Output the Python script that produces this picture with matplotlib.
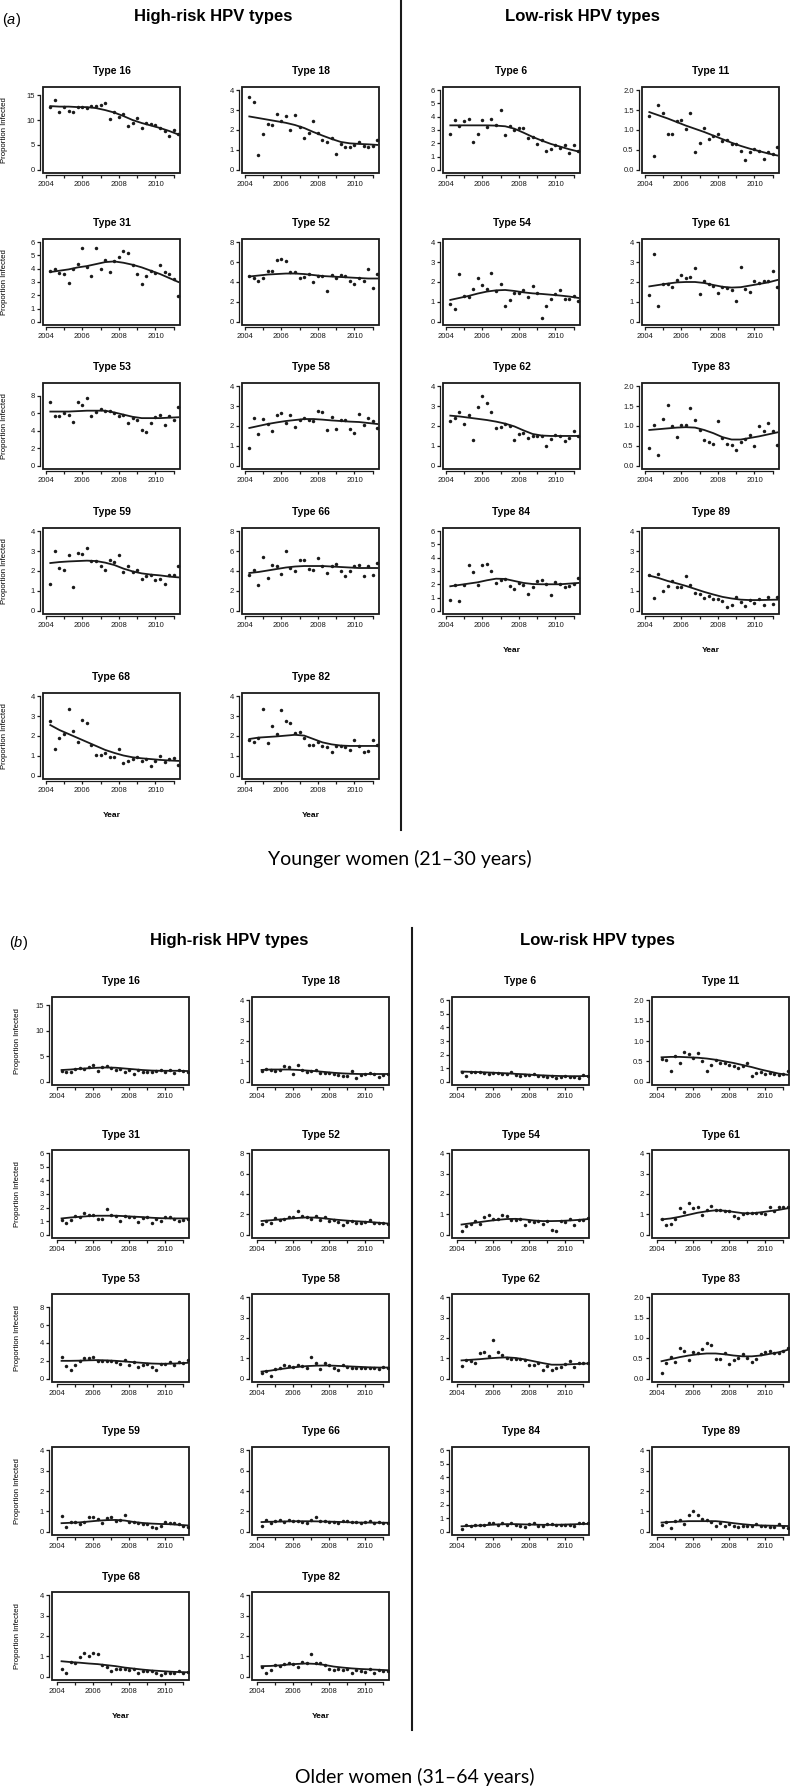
import matplotlib
matplotlib.use("Agg")
import matplotlib.pyplot as plt
from matplotlib.patches import Rectangle
from matplotlib.lines import Line2D
import numpy as np

plt.rcParams['font.family'] = ['Liberation Sans', 'DejaVu Sans']
plt.rcParams['mathtext.fontset'] = 'custom'
plt.rcParams['mathtext.rm'] = 'Liberation Sans'
plt.rcParams['mathtext.it'] = 'Liberation Sans:italic'

# panel layout (types per row)
HIGH_ROWS = [[16, 18], [31, 52], [53, 58], [59, 66], [68, 82]]
LOW_ROWS = [[6, 11], [54, 61], [62, 83], [84, 89]]

# y-axis top value and tick step per type
Y_TOP = {16: 16, 18: 4, 31: 6, 52: 8, 53: 9.1, 58: 4, 59: 4, 66: 8, 68: 4, 82: 4,
         6: 6, 11: 2, 54: 4, 61: 4, 62: 4, 83: 2, 84: 6, 89: 4}
Y_STEP = {16: 5, 18: 1, 31: 1, 52: 2, 53: 2, 58: 1, 59: 1, 66: 2, 68: 1, 82: 1,
          6: 1, 11: 0.5, 54: 1, 61: 1, 62: 1, 83: 0.5, 84: 1, 89: 1}

# quarterly points (2004.25 ... 2011.25), younger women
young_pts = {
    16: [12.7, 14.0, 11.6, 12.7, 11.9, 11.7, 12.7, 12.7, 12.4, 12.9, 12.9, 13.1, 13.5, 10.3, 11.6,
         10.7, 11.2, 8.9, 9.5, 10.5, 8.5, 9.4, 9.2, 9.1, 8.4, 7.7, 6.8, 8.0, 7.1],
    18: [3.65, 3.4, 0.75, 1.78, 2.3, 2.23, 2.8, 2.45, 2.7, 1.98, 2.77, 2.17, 1.58, 1.87, 2.47,
         1.83, 1.48, 1.42, 1.62, 0.8, 1.3, 1.15, 1.15, 1.25, 1.42, 1.2, 1.15, 1.18, 1.5],
    31: [3.8, 4.0, 3.7, 3.6, 2.9, 4.0, 4.35, 5.55, 4.15, 3.45, 5.55, 4.0, 4.65, 3.75, 4.55,
         4.85, 5.3, 5.2, 4.25, 3.6, 2.85, 3.45, 3.8, 3.65, 4.3, 3.75, 3.6, 3.2, 1.95],
    52: [4.6, 4.4, 4.13, 4.4, 5.07, 5.07, 6.2, 6.27, 6.1, 5.0, 5.0, 4.4, 4.5, 4.8, 4.0,
         4.6, 4.6, 3.07, 4.7, 4.4, 4.7, 4.6, 4.13, 3.83, 4.4, 4.13, 5.3, 3.37, 4.83],
    53: [7.25, 5.72, 5.65, 6.06, 5.8, 5.02, 7.25, 6.96, 7.7, 5.72, 6.13, 6.54, 6.3, 6.24, 6.06,
         5.65, 5.8, 4.9, 5.5, 5.28, 4.13, 3.9, 4.9, 5.58, 5.8, 4.68, 5.65, 5.28, 6.73],
    58: [0.9, 2.4, 1.62, 2.35, 2.1, 1.75, 2.53, 2.65, 2.15, 2.55, 1.95, 2.31, 2.38, 2.3, 2.23,
         2.74, 2.7, 1.82, 2.45, 1.85, 2.31, 2.3, 1.87, 1.67, 2.6, 2.07, 2.4, 2.23, 1.9],
    59: [1.36, 3.02, 2.13, 2.06, 2.79, 1.19, 2.89, 2.86, 3.17, 2.48, 2.48, 2.23, 2.06, 2.56, 2.45,
         2.82, 1.95, 2.23, 1.93, 2.06, 1.58, 1.73, 1.78, 1.53, 1.6, 1.36, 1.78, 1.78, 2.23],
    66: [3.63, 4.07, 2.62, 5.38, 3.27, 4.6, 4.47, 3.67, 6.0, 4.27, 3.97, 5.1, 5.1, 4.2, 4.07,
         5.35, 4.47, 3.8, 4.5, 4.67, 3.97, 3.5, 3.97, 4.5, 4.6, 3.47, 4.5, 3.57, 4.8],
    68: [2.75, 1.35, 1.88, 2.12, 3.37, 2.27, 1.72, 2.8, 2.67, 1.55, 1.07, 1.07, 1.15, 0.95, 0.92,
         1.35, 0.62, 0.72, 0.82, 0.95, 0.72, 0.85, 0.5, 0.75, 1.0, 0.68, 0.82, 0.9, 0.55],
    82: [1.8, 1.72, 1.88, 3.38, 1.67, 2.5, 2.08, 3.33, 2.75, 2.67, 2.15, 2.2, 1.92, 1.55, 1.55,
         1.7, 1.52, 1.45, 1.18, 1.5, 1.5, 1.45, 1.28, 1.82, 1.5, 1.22, 1.25, 1.8, 1.55],
    6: [2.72, 3.78, 3.28, 3.68, 3.85, 2.1, 2.69, 3.73, 3.21, 3.85, 3.36, 4.49, 2.62, 3.31, 2.99,
        3.14, 3.16, 2.37, 2.47, 1.95, 2.25, 1.41, 1.6, 1.85, 1.65, 1.85, 1.23, 1.85, 1.41],
    11: [1.36, 0.34, 1.62, 1.43, 0.91, 0.89, 1.22, 1.24, 1.03, 1.43, 0.45, 0.67, 1.06, 0.78, 0.86,
         0.89, 0.72, 0.75, 0.65, 0.65, 0.48, 0.24, 0.45, 0.53, 0.47, 0.28, 0.44, 0.39, 0.58],
    54: [0.89, 0.66, 2.41, 1.3, 1.26, 1.67, 2.2, 1.84, 1.67, 2.46, 1.54, 1.92, 0.8, 1.1, 1.46,
         1.46, 1.62, 1.23, 1.82, 1.43, 0.21, 0.8, 1.13, 1.38, 1.59, 1.15, 1.15, 1.3, 1.05],
    61: [1.35, 3.4, 0.77, 1.92, 1.92, 1.75, 2.08, 2.36, 2.2, 2.27, 2.69, 1.39, 2.03, 1.92, 1.82,
         1.43, 1.75, 1.69, 1.6, 1.06, 2.77, 1.67, 1.5, 2.03, 1.95, 2.03, 2.03, 2.54, 1.75],
    62: [2.26, 2.4, 2.71, 2.08, 2.55, 1.32, 2.96, 3.5, 3.17, 2.71, 1.88, 1.93, 2.08, 2.02, 1.32,
         1.59, 1.65, 1.39, 1.52, 1.52, 1.52, 1.02, 1.36, 1.57, 1.52, 1.26, 1.39, 1.75, 1.52],
    83: [0.45, 1.03, 0.27, 1.18, 1.54, 1.01, 0.73, 1.03, 1.03, 1.45, 1.14, 0.89, 0.64, 0.59, 0.54,
         1.13, 0.7, 0.54, 0.52, 0.39, 0.6, 0.68, 0.78, 0.49, 1.01, 0.87, 1.07, 0.87, 0.52],
    84: [0.82, 1.94, 0.77, 1.94, 3.42, 2.93, 1.91, 3.42, 3.5, 3.03, 2.11, 2.31, 2.36, 1.86, 1.66,
         2.11, 1.91, 1.29, 1.79, 2.23, 2.31, 2.03, 1.22, 2.16, 1.99, 1.79, 1.86, 2.03, 2.48],
    89: [1.79, 0.64, 1.87, 0.99, 1.24, 1.49, 1.19, 1.19, 1.74, 1.31, 0.91, 0.84, 0.66, 0.74, 0.58,
         0.58, 0.5, 0.2, 0.28, 0.68, 0.45, 0.25, 0.55, 0.41, 0.58, 0.31, 0.71, 0.36, 0.69],
}

# smoothed trend, half-yearly (2004.25 ... 2011.25), younger women
young_trend = {
    16: [12.8, 12.7, 12.7, 12.6, 12.6, 12.4, 12.0, 11.5, 10.8, 10.0, 9.4, 8.9, 8.4, 7.8, 7.1],
    18: [2.68, 2.6, 2.52, 2.44, 2.36, 2.25, 2.1, 1.9, 1.72, 1.55, 1.4, 1.33, 1.3, 1.28, 1.25],
    31: [3.75, 3.85, 3.95, 4.1, 4.2, 4.35, 4.5, 4.55, 4.45, 4.3, 4.1, 3.85, 3.6, 3.3, 3.0],
    52: [4.55, 4.65, 4.75, 4.8, 4.85, 4.85, 4.8, 4.7, 4.6, 4.55, 4.5, 4.45, 4.4, 4.35, 4.35],
    53: [6.2, 6.2, 6.2, 6.25, 6.3, 6.3, 6.3, 6.1, 5.85, 5.6, 5.45, 5.45, 5.45, 5.5, 5.55],
    58: [1.9, 2.0, 2.1, 2.18, 2.25, 2.3, 2.35, 2.35, 2.32, 2.28, 2.25, 2.22, 2.2, 2.15, 2.1],
    59: [2.4, 2.45, 2.48, 2.5, 2.52, 2.5, 2.42, 2.3, 2.12, 1.98, 1.88, 1.82, 1.78, 1.72, 1.68],
    66: [3.8, 3.9, 4.05, 4.2, 4.35, 4.45, 4.5, 4.5, 4.5, 4.45, 4.4, 4.35, 4.3, 4.3, 4.3],
    68: [2.55, 2.3, 2.1, 1.9, 1.7, 1.5, 1.3, 1.15, 1.02, 0.93, 0.88, 0.84, 0.8, 0.77, 0.75],
    82: [1.85, 1.92, 1.95, 1.98, 2.02, 2.06, 2.02, 1.85, 1.68, 1.58, 1.52, 1.5, 1.5, 1.5, 1.5],
    6: [3.35, 3.35, 3.35, 3.35, 3.35, 3.33, 3.28, 3.1, 2.8, 2.48, 2.2, 1.95, 1.75, 1.55, 1.38],
    11: [1.45, 1.37, 1.29, 1.2, 1.11, 1.03, 0.95, 0.86, 0.77, 0.68, 0.6, 0.53, 0.47, 0.41, 0.36],
    54: [1.1, 1.2, 1.3, 1.42, 1.52, 1.58, 1.6, 1.55, 1.48, 1.43, 1.4, 1.36, 1.32, 1.27, 1.2],
    61: [1.78, 1.85, 1.92, 1.98, 2.0, 2.0, 1.95, 1.85, 1.76, 1.72, 1.74, 1.82, 1.9, 1.98, 2.1],
    62: [2.52, 2.48, 2.42, 2.36, 2.3, 2.22, 2.12, 1.98, 1.78, 1.6, 1.52, 1.5, 1.5, 1.5, 1.5],
    83: [0.9, 0.92, 0.94, 0.96, 0.97, 0.96, 0.9, 0.82, 0.72, 0.66, 0.66, 0.7, 0.74, 0.79, 0.84],
    84: [1.85, 1.95, 2.05, 2.15, 2.3, 2.42, 2.4, 2.25, 2.1, 2.02, 2.0, 2.0, 2.0, 2.05, 2.1],
    89: [1.77, 1.65, 1.5, 1.38, 1.25, 1.1, 0.95, 0.82, 0.7, 0.62, 0.56, 0.54, 0.54, 0.55, 0.56],
}

# older women
old_pts = {
    16: [2.2, 1.9, 2.0, 2.5, 2.65, 2.6, 2.85, 3.2, 2.2, 2.8, 3.0, 2.65, 2.4, 2.6, 2.0,
         2.25, 1.6, 2.25, 1.95, 1.9, 2.0, 2.05, 2.25, 1.9, 2.25, 1.75, 2.25, 2.05, 1.9],
    18: [0.52, 0.62, 0.58, 0.55, 0.6, 0.75, 0.7, 0.4, 0.8, 0.6, 0.5, 0.55, 0.6, 0.45, 0.45,
         0.42, 0.38, 0.35, 0.28, 0.3, 0.55, 0.2, 0.32, 0.38, 0.42, 0.4, 0.25, 0.35, 0.4],
    31: [1.05, 0.85, 1.1, 1.4, 1.33, 1.58, 1.48, 1.48, 1.16, 1.16, 1.88, 1.48, 1.4, 0.99, 1.38,
         1.33, 1.33, 0.96, 1.23, 1.28, 0.84, 1.19, 1.04, 1.28, 1.28, 1.14, 1.04, 1.1, 1.19],
    52: [1.05, 1.38, 1.15, 1.64, 1.48, 1.57, 1.77, 1.7, 2.3, 1.87, 1.7, 1.57, 1.87, 1.44, 1.7,
         1.31, 1.44, 1.21, 0.98, 1.28, 1.38, 1.11, 1.11, 1.21, 1.44, 1.11, 1.11, 1.11, 1.05],
    53: [2.42, 1.47, 0.95, 1.5, 1.94, 2.31, 2.31, 2.42, 2.01, 2.01, 2.01, 2.01, 1.87, 1.61, 2.12,
         1.5, 1.83, 1.28, 1.5, 1.68, 1.28, 1.03, 1.65, 1.65, 1.83, 1.57, 1.83, 1.76, 2.05],
    58: [0.26, 0.38, 0.13, 0.46, 0.54, 0.66, 0.62, 0.59, 0.66, 0.62, 0.53, 1.07, 0.79, 0.49, 0.76,
         0.67, 0.54, 0.44, 0.66, 0.59, 0.54, 0.54, 0.54, 0.54, 0.53, 0.54, 0.49, 0.59, 0.53],
    59: [0.78, 0.24, 0.49, 0.46, 0.37, 0.46, 0.7, 0.7, 0.62, 0.42, 0.67, 0.7, 0.54, 0.57, 0.83,
         0.46, 0.5, 0.41, 0.37, 0.37, 0.24, 0.18, 0.28, 0.46, 0.41, 0.41, 0.37, 0.29, 0.21],
    66: [0.59, 1.14, 0.81, 1.07, 1.2, 0.98, 1.17, 1.07, 1.01, 0.91, 0.85, 1.14, 1.43, 1.01, 1.07,
         0.98, 0.91, 0.85, 1.01, 1.07, 0.91, 0.91, 0.85, 0.91, 1.01, 0.81, 0.91, 0.85, 0.81],
    68: [0.39, 0.2, 0.74, 0.69, 0.95, 1.15, 1.03, 1.15, 1.1, 0.57, 0.46, 0.3, 0.36, 0.39, 0.36,
         0.33, 0.38, 0.2, 0.3, 0.3, 0.3, 0.2, 0.11, 0.2, 0.16, 0.2, 0.3, 0.16, 0.25],
    82: [0.49, 0.16, 0.33, 0.57, 0.54, 0.62, 0.69, 0.62, 0.46, 0.72, 0.69, 1.1, 0.69, 0.69, 0.57,
         0.36, 0.33, 0.39, 0.33, 0.36, 0.16, 0.33, 0.3, 0.25, 0.39, 0.2, 0.33, 0.26, 0.3],
    6: [0.75, 0.45, 0.7, 0.75, 0.72, 0.68, 0.55, 0.62, 0.65, 0.6, 0.55, 0.72, 0.48, 0.45, 0.5,
        0.48, 0.55, 0.4, 0.42, 0.35, 0.42, 0.3, 0.38, 0.4, 0.38, 0.35, 0.3, 0.48, 0.42],
    11: [0.56, 0.54, 0.27, 0.63, 0.46, 0.72, 0.69, 0.59, 0.71, 0.5, 0.26, 0.41, 0.54, 0.46, 0.45,
         0.41, 0.38, 0.34, 0.38, 0.47, 0.15, 0.22, 0.24, 0.18, 0.22, 0.18, 0.16, 0.18, 0.27],
    54: [0.16, 0.44, 0.52, 0.66, 0.52, 0.85, 0.95, 0.77, 0.79, 0.97, 0.93, 0.72, 0.74, 0.77, 0.49,
         0.66, 0.61, 0.69, 0.52, 0.66, 0.23, 0.16, 0.66, 0.64, 0.77, 0.49, 0.72, 0.72, 0.82],
    61: [0.77, 0.49, 0.52, 0.77, 1.31, 1.1, 1.56, 1.31, 1.34, 0.97, 1.21, 1.43, 1.21, 1.21, 1.15,
         1.18, 0.93, 0.8, 1.02, 1.05, 1.07, 1.05, 1.05, 1.02, 1.34, 1.18, 1.38, 1.34, 1.34],
    62: [0.63, 0.92, 0.86, 0.76, 1.25, 1.32, 1.12, 1.89, 1.32, 1.15, 1.04, 0.95, 0.99, 0.95, 0.92,
         0.67, 0.67, 0.76, 0.41, 0.63, 0.41, 0.51, 0.58, 0.71, 0.87, 0.59, 0.79, 0.76, 0.79],
    83: [0.13, 0.38, 0.54, 0.4, 0.75, 0.68, 0.47, 0.65, 0.64, 0.72, 0.87, 0.82, 0.48, 0.48, 0.62,
         0.37, 0.46, 0.52, 0.6, 0.51, 0.4, 0.48, 0.6, 0.66, 0.68, 0.64, 0.64, 0.68, 0.76],
    84: [0.17, 0.49, 0.41, 0.51, 0.46, 0.51, 0.63, 0.61, 0.51, 0.68, 0.51, 0.61, 0.51, 0.44, 0.37,
         0.56, 0.61, 0.41, 0.44, 0.56, 0.56, 0.49, 0.51, 0.51, 0.49, 0.41, 0.61, 0.61, 0.61],
    89: [0.34, 0.46, 0.18, 0.54, 0.57, 0.37, 0.81, 1.02, 0.83, 0.62, 0.59, 0.46, 0.28, 0.41, 0.29,
         0.37, 0.29, 0.21, 0.29, 0.29, 0.29, 0.37, 0.29, 0.29, 0.21, 0.21, 0.37, 0.24, 0.16],
}

old_trend = {
    16: [2.3, 2.4, 2.55, 2.65, 2.75, 2.8, 2.75, 2.6, 2.45, 2.3, 2.2, 2.15, 2.15, 2.15, 2.1],
    18: [0.58, 0.6, 0.6, 0.6, 0.58, 0.55, 0.52, 0.48, 0.44, 0.41, 0.39, 0.38, 0.38, 0.38, 0.38],
    31: [1.2, 1.27, 1.32, 1.37, 1.4, 1.4, 1.4, 1.37, 1.33, 1.3, 1.25, 1.22, 1.2, 1.2, 1.2],
    52: [1.35, 1.42, 1.5, 1.58, 1.65, 1.7, 1.68, 1.6, 1.5, 1.42, 1.35, 1.3, 1.25, 1.18, 1.1],
    53: [2.0, 2.0, 2.02, 2.06, 2.08, 2.05, 2.0, 1.93, 1.85, 1.77, 1.7, 1.67, 1.68, 1.72, 1.78],
    58: [0.35, 0.4, 0.47, 0.53, 0.58, 0.62, 0.64, 0.65, 0.64, 0.62, 0.6, 0.58, 0.56, 0.55, 0.55],
    59: [0.42, 0.44, 0.46, 0.5, 0.54, 0.57, 0.58, 0.55, 0.48, 0.43, 0.4, 0.38, 0.37, 0.34, 0.31],
    66: [0.95, 0.98, 1.0, 1.02, 1.03, 1.03, 1.02, 1.0, 0.98, 0.95, 0.92, 0.9, 0.9, 0.89, 0.88],
    68: [0.76, 0.72, 0.69, 0.65, 0.62, 0.57, 0.52, 0.45, 0.4, 0.35, 0.31, 0.28, 0.25, 0.23, 0.22],
    82: [0.52, 0.53, 0.56, 0.6, 0.63, 0.65, 0.63, 0.58, 0.5, 0.45, 0.41, 0.38, 0.36, 0.34, 0.32],
    6: [0.75, 0.73, 0.71, 0.68, 0.65, 0.62, 0.58, 0.55, 0.5, 0.47, 0.44, 0.42, 0.41, 0.41, 0.42],
    11: [0.6, 0.61, 0.61, 0.6, 0.59, 0.57, 0.54, 0.5, 0.46, 0.41, 0.36, 0.3, 0.25, 0.2, 0.17],
    54: [0.5, 0.56, 0.62, 0.68, 0.73, 0.77, 0.78, 0.75, 0.7, 0.67, 0.67, 0.68, 0.7, 0.73, 0.77],
    61: [0.75, 0.8, 0.88, 0.98, 1.08, 1.15, 1.2, 1.18, 1.12, 1.06, 1.05, 1.1, 1.16, 1.22, 1.3],
    62: [0.9, 0.93, 0.96, 1.0, 1.03, 1.05, 1.02, 0.95, 0.86, 0.77, 0.69, 0.69, 0.71, 0.73, 0.75],
    83: [0.43, 0.48, 0.53, 0.57, 0.6, 0.62, 0.62, 0.6, 0.57, 0.55, 0.55, 0.57, 0.61, 0.65, 0.71],
    84: [0.4, 0.43, 0.46, 0.5, 0.54, 0.56, 0.56, 0.54, 0.52, 0.51, 0.51, 0.52, 0.54, 0.56, 0.58],
    89: [0.45, 0.48, 0.5, 0.52, 0.52, 0.52, 0.52, 0.48, 0.42, 0.37, 0.33, 0.31, 0.3, 0.29, 0.28],
}

W, H = 800, 1791
INK = '#1a1a1a'
fig = plt.figure(figsize=(W / 100, H / 100), dpi=100)


def place(x, y, w, h):
    return [x / W, 1 - (y + h) / H, w / W, h / H]


def ftext(x, y, s, **kw):
    fig.text(x / W, 1 - y / H, s, ha='center', va='center', **kw)


def panel(x, y, w, h, t, pts, trend, xlim, ylab_x=None, year=False):
    ax = fig.add_axes(place(x, y, w, h))
    xs = 2004.25 + 0.25 * np.arange(len(pts))
    ax.plot(xs, pts, 'o', ms=2.5, color=INK, mec='none')
    xt = 2004.25 + 0.5 * np.arange(len(trend))
    ax.plot(xt, trend, '-', lw=1.3, color=INK)
    top = Y_TOP[t]
    ax.set_xlim(xlim)
    ax.set_ylim(-0.04 * top, 1.04 * top)
    yt = np.arange(0, top + 1e-9, Y_STEP[t])
    ax.set_yticks(yt)
    if Y_STEP[t] < 1:
        ax.set_yticklabels(['%.1f' % v for v in yt])
    else:
        ax.set_yticklabels(['%d' % v for v in yt])
    years = np.arange(2004, 2012)
    ax.set_xticks(years)
    ax.set_xticklabels([str(v) if v % 2 == 0 else '' for v in years])
    ax.tick_params(labelsize=5.5, length=2.5, width=0.9, pad=1.5, color=INK, labelcolor=INK)
    for lab in ax.get_xticklabels() + ax.get_yticklabels():
        lab.set_fontweight('bold')
    ax.spines['left'].set_position(('outward', 2))
    ax.spines['bottom'].set_position(('outward', 1.5))
    ax.spines['left'].set_bounds(0, yt[-1])
    ax.spines['bottom'].set_bounds(2004, 2011)
    for s in ['left', 'bottom']:
        ax.spines[s].set_linewidth(0.9)
        ax.spines[s].set_color(INK)
    for s in ['top', 'right']:
        ax.spines[s].set_visible(False)
    ax.add_patch(Rectangle((0, 0), 1, 1, transform=ax.transAxes, fill=False,
                           lw=1.3, ec=INK, clip_on=False))
    ax.set_title('Type %d' % t, fontsize=7.5, fontweight='bold', pad=9)
    if ylab_x is not None:
        ftext(ylab_x, y + h / 2, 'Proportion Infected', fontsize=5.6, rotation=90)
    if year:
        ftext(x + w / 2, y + h + 36, 'Year', fontsize=6, fontweight='bold')


def section(cols, rows, h, xlim, pts, trend, tag, heads, divider, caption, ylab_x, low_year):
    w = 137
    for r, pair in enumerate(HIGH_ROWS):
        for c, t in enumerate(pair):
            panel(cols[c], rows[r], w, h, t, pts[t], trend[t], xlim,
                  ylab_x=ylab_x if c == 0 else None, year=(r == len(HIGH_ROWS) - 1))
    for r, pair in enumerate(LOW_ROWS):
        for c, t in enumerate(pair):
            panel(cols[c + 2], rows[r], w, h, t, pts[t], trend[t], xlim,
                  year=(low_year and r == len(LOW_ROWS) - 1))
    ftext(tag[0], tag[1], tag[2], fontsize=10.5)
    ftext(heads[0][0], heads[0][1], 'High-risk HPV types', fontsize=12, fontweight='bold')
    ftext(heads[1][0], heads[1][1], 'Low-risk HPV types', fontsize=12, fontweight='bold')
    dx, dy0, dy1 = divider
    fig.add_artist(Line2D([dx / W, dx / W], [1 - dy0 / H, 1 - dy1 / H], color=INK,
                          lw=1.5, transform=fig.transFigure))
    ftext(caption[0], caption[1], caption[2], fontsize=14, family='Lato')


section([43, 242, 443, 642], [87, 239, 383, 528, 693], 86, (2003.85, 2011.34),
        young_pts, young_trend, (11, 20, r'($\it{a}$)'), [(213, 17), (582, 17)],
        (401, 0, 830), (400, 859, 'Younger women (21\u201330 years)'), 5, True)

section([52, 252, 452, 652], [997, 1150, 1294, 1447, 1592], 88, (2003.72, 2011.32),
        old_pts, old_trend, (18, 943, r'($\it{b}$)'), [(229, 941), (597, 941)],
        (412, 928, 1730), (415, 1777, 'Older women (31\u201364 years)'), 18, False)

fig.savefig('out.png', dpi=100)
